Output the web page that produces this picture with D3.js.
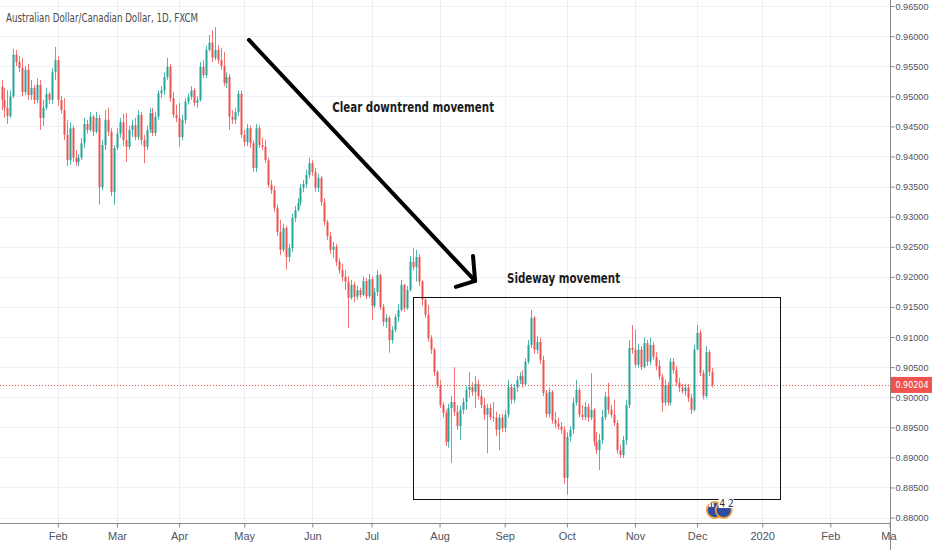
<!DOCTYPE html>
<html>
<head>
<meta charset="UTF-8">
<title>AUDCAD 1D</title>
<script src="https://cdn.jsdelivr.net/npm/d3@7"></script>
<style>
body{margin:0;background:#fff;}
svg{display:block;}
</style>
</head>
<body>
<script>
var width=932, height=550;
var plotRight=890, plotBottom=523;

// daily AUD/CAD, prices in 1/10000 CAD, open = previous close
var firstOpen=9516;
var closes=[
 9494,9481,9467,9500,9569,9557,9547,9507,9544,9502,9514,9494,9519,9464,9481,9504,9494,9540,9560, // jan
 9494,9477,9436,9394,9447,9398,9391,9398,9422,9454,9444,9466,9441,9464,9349,9419,9461,9441,9341,9414, // feb
 9438,9457,9427,9416,9444,9452,9432,9469,9427,9416,9444,9472,9439,9466,9505,9510,9532,9549,9497,9469,9464, // mar
 9432,9461,9491,9499,9510,9489,9494,9549,9535,9577,9589,9564,9577,9560,9550,9522,9532,9466,9461,9474,9504,9436, // apr
 9424,9447,9422,9381,9447,9419,9416,9394,9353,9344,9314,9275,9245,9281,9233,9248,9298,9311,9323,9348,9354,9369,9389, // may
 9374,9348,9364,9324,9291,9268,9245,9250,9225,9211,9200,9192,9165,9187,9167,9178,9170,9193,9168,9196, // jun
 9152,9175,9203,9150,9125,9132,9095,9112,9133,9145,9187,9148,9178,9225,9216,9233,9192,9162,9137,9098,9079,9042,9020, // jul
 8987,8974,8926,8982,8992,8976,8952,8979,8992,9012,9017,9009,9022,9002,8987,8971,8982,8967,8966,8946,8966,8949, // aug
 8971,9017,8996,9016,9029,9035,9022,9059,9087,9132,9079,9092,9062,9007,8972,9009,8962,8956,8951,8946,8866, // sep
 8934,8946,8991,9012,8971,8967,8984,8966,8979,8926,8912,8929,8967,9001,8979,8971,8957,8912,8904,8929,8987,9082,9079, // oct
 9054,9079,9050,9090,9059,9087,9067,9052,9034,8991,9020,8991,9059,9045,9024,9016,9010,9016,8999,8979,9079, // nov
 9107,9040,9002,9075,9042,9020.4 // dec
];
var highs=[
 9527,9514,9510,9510,9579,9577,9567,9564,9550,9554,9527,9519,9530,9527,9494,9514,9507,9547,9582,
 9566,9500,9497,9461,9457,9451,9411,9404,9431,9464,9461,9474,9469,9474,9469,9427,9477,9481,9447,9419,
 9447,9464,9471,9472,9451,9461,9464,9477,9474,9436,9451,9481,9481,9474,9510,9517,9540,9564,9554,9507,9486,
 9489,9469,9497,9505,9517,9514,9500,9557,9560,9584,9602,9610,9615,9585,9580,9574,9540,9537,9477,9481,9510,9510,
 9444,9454,9451,9427,9454,9452,9431,9427,9398,9361,9351,9320,9295,9288,9285,9255,9305,9318,9331,9354,9361,9378,9398,
 9394,9381,9371,9368,9331,9295,9275,9258,9255,9231,9222,9211,9201,9195,9192,9185,9182,9201,9198,9205,
 9201,9182,9211,9205,9155,9138,9135,9118,9138,9155,9195,9188,9185,9235,9248,9245,9238,9195,9165,9153,9103,9082,9045,
 9029,8992,8979,8989,9002,9050,8987,8986,8999,9019,9042,9025,9035,9029,9012,8999,8989,8989,8992,8976,8972,8972,
 8979,9029,9022,9022,9035,9042,9045,9065,9095,9145,9135,9102,9099,9069,9012,9016,9012,8976,8966,8959,8952,
 8942,8952,8999,9029,9016,8987,8992,8989,9040,8982,8942,8939,8979,9009,9024,8987,8996,8962,8921,8936,8996,9095,9120,
 9112,9089,9085,9099,9095,9099,9092,9075,9062,9039,9029,9025,9065,9065,9052,9032,9022,9022,9022,9006,9087,
 9120,9112,9045,9085,9079,9049
];
var lows=[
 9477,9464,9454,9464,9497,9550,9540,9500,9502,9494,9494,9487,9489,9444,9451,9477,9487,9487,9527,
 9484,9471,9427,9384,9386,9391,9384,9384,9394,9414,9438,9441,9434,9438,9320,9344,9411,9434,9334,9320,
 9411,9431,9417,9391,9411,9432,9427,9427,9419,9389,9411,9439,9434,9434,9461,9497,9502,9527,9491,9464,9457,
 9416,9427,9454,9486,9494,9484,9481,9491,9530,9530,9574,9557,9560,9554,9544,9517,9514,9444,9454,9454,9467,9431,
 9417,9417,9414,9374,9374,9414,9411,9389,9348,9338,9308,9268,9236,9241,9212,9225,9241,9291,9308,9318,9341,9348,9364,
 9368,9341,9341,9318,9285,9261,9238,9231,9218,9205,9192,9178,9115,9162,9158,9162,9165,9168,9163,9165,
 9128,9148,9168,9145,9118,9115,9074,9089,9108,9125,9142,9142,9145,9175,9211,9192,9185,9152,9132,9092,9072,9035,9015,
 8982,8966,8919,8916,8891,8969,8946,8929,8972,8979,8999,9002,8982,8996,8982,8962,8907,8962,8959,8936,8912,8942,
 8942,8966,8989,8991,9009,9022,9016,9019,9055,9082,9072,9072,9055,9002,8966,8966,8956,8949,8946,8939,8856,
 8838,8926,8939,8986,8966,8962,8962,8959,8962,8919,8906,8879,8922,8962,8972,8966,8952,8906,8899,8899,8921,8982,9072,
 9049,9049,9045,9049,9052,9054,9062,9045,9029,8976,8986,8986,8986,9039,9019,9009,9006,9002,8992,8972,8976,
 9079,9035,8996,8999,9035,9016
];

// time axis: bar index of first trading day of each month
var monthLabels=["Feb","Mar","Apr","May","Jun","Jul","Aug","Sep","Oct","Nov","Dec","2020","Feb","Mar"];
var monthIdx=[19,39,60,82,105,125,148,170,191,214,235,257,280,300];
var priceTicks=[0.880,0.885,0.890,0.895,0.900,0.905,0.910,0.915,0.920,0.925,0.930,0.935,0.940,0.945,0.950,0.955,0.960,0.965];
var lastPrice=0.90204;

// drawings, in [bar index, price]
var trendLine=[[83.6,0.95936],[160.0,0.91932]];
var arrowHead=[[159.3,0.92347],[160.0,0.91932],[153.5,0.91832]];
var rangeBox=[[139.0,0.91667],[263.0,0.88311]];
var notes=[
 {text:"Clear downtrend movement",at:[111.7,0.94740]},
 {text:"Sideway movement",at:[170.8,0.91899]}
];

var x=d3.scaleLinear().domain([0,300]).range([1.5,889.5]);
var y=d3.scaleLinear().domain([0.8791,0.966]).range([plotBottom,0]);
var axisFont="'DejaVu Sans Condensed','DejaVu Sans',sans-serif";

var svg=d3.select("body").append("svg")
  .attr("width",width).attr("height",height)
  .style("font-family",axisFont);

svg.append("defs").append("clipPath").attr("id","plot")
  .append("rect").attr("x",0).attr("y",0).attr("width",plotRight).attr("height",plotBottom);

// grid
var grid=svg.append("g").attr("stroke","#edf0f5").attr("stroke-width",1);
grid.selectAll(".h").data(priceTicks).enter().append("line")
  .attr("x1",0).attr("x2",plotRight)
  .attr("y1",function(d){return Math.round(y(d))+0.5;})
  .attr("y2",function(d){return Math.round(y(d))+0.5;});
grid.selectAll(".v").data(monthIdx).enter().append("line")
  .attr("y1",0).attr("y2",plotBottom)
  .attr("x1",function(d){return Math.round(x(d))+0.5;})
  .attr("x2",function(d){return Math.round(x(d))+0.5;});

// candles
var bars=closes.map(function(c,i){
  return {i:i,o:(i?closes[i-1]:firstOpen)/1e4,h:highs[i]/1e4,l:lows[i]/1e4,c:c/1e4};
});
var up="#26a69a", down="#ef5350";
var cg=svg.append("g").attr("clip-path","url(#plot)");
cg.selectAll("line.wick").data(bars).enter().append("line")
  .attr("class","wick")
  .attr("x1",function(d){return Math.round(x(d.i))+0.5;})
  .attr("x2",function(d){return Math.round(x(d.i))+0.5;})
  .attr("y1",function(d){return y(d.h);})
  .attr("y2",function(d){return y(d.l);})
  .attr("stroke",function(d){return d.c>=d.o?up:down;})
  .attr("stroke-opacity",0.8)
  .attr("stroke-width",1);
cg.selectAll("rect.body").data(bars).enter().append("rect")
  .attr("class","body")
  .attr("x",function(d){return Math.round(x(d.i))-0.5;})
  .attr("width",2)
  .attr("y",function(d){return y(Math.max(d.o,d.c));})
  .attr("height",function(d){return Math.max(1,Math.abs(y(d.o)-y(d.c)));})
  .attr("fill",function(d){return d.c>=d.o?up:down;});

// last price line
svg.append("line")
  .attr("x1",0).attr("x2",plotRight)
  .attr("y1",Math.round(y(lastPrice))+0.5).attr("y2",Math.round(y(lastPrice))+0.5)
  .attr("stroke",down).attr("stroke-width",1).attr("stroke-dasharray","1,2");

// drawings
var pt=function(p){return [x(p[0]),y(p[1])];};
svg.append("path")
  .attr("d",d3.line()(trendLine.map(pt)))
  .attr("fill","none").attr("stroke","#000").attr("stroke-width",4).attr("stroke-linecap","round");
svg.append("path")
  .attr("d",d3.line()(arrowHead.map(pt)))
  .attr("fill","none").attr("stroke","#000").attr("stroke-width",4)
  .attr("stroke-linecap","round").attr("stroke-linejoin","round");
svg.append("rect")
  .attr("x",Math.round(x(rangeBox[0][0]))+0.5)
  .attr("y",Math.round(y(rangeBox[0][1]))+0.5)
  .attr("width",Math.round(x(rangeBox[1][0])-x(rangeBox[0][0])))
  .attr("height",Math.round(y(rangeBox[1][1])-y(rangeBox[0][1])))
  .attr("fill","none").attr("stroke","#111").attr("stroke-width",1);
var noteLen=[162,113];
svg.selectAll("text.note").data(notes).enter().append("text")
  .attr("class","note")
  .attr("x",function(d){return x(d.at[0]);})
  .attr("y",function(d){return y(d.at[1]);})
  .attr("textLength",function(d,i){return noteLen[i];})
  .attr("lengthAdjust","spacingAndGlyphs")
  .style("font-size","14px").style("font-weight","bold")
  .attr("fill","#1c1c1c")
  .text(function(d){return d.text;});

// event marker under the last bars
var ev=svg.append("g");
[241.0,244.0].forEach(function(b){
  ev.append("circle").attr("cx",x(b)).attr("cy",plotBottom-13).attr("r",8)
    .attr("fill","#2f4ea3").attr("stroke","#f0a03c").attr("stroke-width",1.8);
});
ev.append("rect").attr("x",x(241)-6).attr("y",plotBottom-20).attr("width",5).attr("height",4).attr("fill","#e8e8f0");
ev.append("rect").attr("x",x(241)-4).attr("y",plotBottom-20).attr("width",1.2).attr("height",4).attr("fill","#d33");
ev.append("rect").attr("x",x(242.6)-1).attr("y",plotBottom-25).attr("width",15).attr("height",10).attr("fill","#fff");
ev.append("text").attr("x",x(242.6)).attr("y",plotBottom-16).attr("font-size",10).attr("fill","#333").text("4");
ev.append("text").attr("x",x(245.4)).attr("y",plotBottom-16).attr("font-size",10).attr("fill","#333").text("2");

// axes
svg.append("line").attr("x1",plotRight+0.5).attr("x2",plotRight+0.5).attr("y1",0).attr("y2",height)
  .attr("stroke","#888").attr("stroke-width",1);
svg.append("line").attr("x1",0).attr("x2",plotRight).attr("y1",plotBottom+0.5).attr("y2",plotBottom+0.5)
  .attr("stroke","#888").attr("stroke-width",1);

var yAxis=svg.append("g").attr("transform","translate("+(plotRight+0.5)+",0)")
  .call(d3.axisRight(y).tickValues(priceTicks).tickFormat(d3.format(".5f")).tickSize(4).tickPadding(1));
yAxis.select(".domain").remove();
yAxis.selectAll("line").attr("stroke","#888");
yAxis.selectAll("text").attr("fill","#50535e").style("font-size","9.5px")
  .attr("textLength",33).attr("lengthAdjust","spacingAndGlyphs");

var xAxis=svg.append("g").attr("transform","translate(0,"+(plotBottom+0.5)+")")
  .call(d3.axisBottom(x).tickValues(monthIdx).tickFormat(function(d,i){return monthLabels[i];}).tickSize(4).tickPadding(5));
xAxis.select(".domain").remove();
xAxis.selectAll("line").attr("stroke","#888");
xAxis.selectAll("text").attr("fill","#50535e").style("font-size","11px");
xAxis.selectAll(".tick").filter(function(d){return x(d)>plotRight-2;}).select("text")
  .attr("text-anchor","end").attr("dx","0.6em")
  .text(function(){return this.textContent.slice(0,2);});

// last price label
svg.append("rect").attr("x",plotRight+1).attr("y",y(lastPrice)-8).attr("width",width-plotRight-1).attr("height",16)
  .attr("fill",down);
svg.append("text").attr("x",plotRight+5.5).attr("y",y(lastPrice)+3.5)
  .attr("fill","#fff").style("font-size","9.5px")
  .attr("textLength",33).attr("lengthAdjust","spacingAndGlyphs")
  .text(d3.format(".5f")(lastPrice));

// title
svg.append("text").attr("x",6).attr("y",22)
  .attr("textLength",192).attr("lengthAdjust","spacingAndGlyphs")
  .attr("fill","#4a4a4a").style("font-size","12px")
  .text("Australian Dollar/Canadian Dollar, 1D, FXCM");
</script>
</body>
</html>
